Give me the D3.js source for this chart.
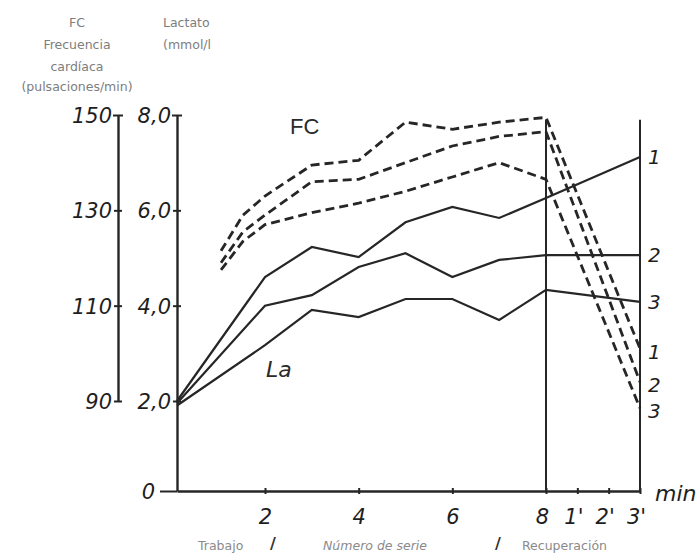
<!DOCTYPE html>
<html><head><meta charset="utf-8">
<script src="https://cdn.jsdelivr.net/npm/d3@7"></script>
<style>body{margin:0;background:#fff}svg{display:block}</style>
</head><body><svg id="c" width="700" height="555"></svg>
<script>
// ---- data ----
const workMinutes = [0, 2, 3, 4, 5, 6, 7, 8, 11];           // 11 = 3' of recovery
const lactate1 = [2.0, 4.6, 5.23, 5.02, 5.75, 6.07, 5.84, 6.26, 7.12];
const lactate2 = [1.95, 4.0, 4.22, 4.81, 5.1, 4.6, 4.96, 5.06, 5.06];
const lactate3 = [1.9, 3.17, 3.91, 3.76, 4.14, 4.14, 3.7, 4.33, 4.08];
const hrMinutes = [1, 1.5, 2, 3, 4, 5, 6, 7, 8, 11];
const hr1 = [121.5, 129, 133, 139.5, 140.5, 148.5, 147, 148.5, 149.5, 101];
const hr2 = [119, 125.5, 129, 136, 136.5, 140, 143.5, 145.5, 146.5, 94];
const hr3 = [117.5, 123.5, 127, 129.5, 131.5, 134, 137, 140, 136.5, 88.5];
const seriesNames = ["1", "2", "3"];
const xTickValues = [2, 4, 6, 8, 9, 10, 11];
const xTickLabels = ["2", "4", "6", "8", "1'", "2'", "3'"];
const hrTickValues = [90, 110, 130, 150];
const hrTickLabels = ["90", "110", "130", "150"];
const laTickValues = [0, 2, 4, 6, 8];
const laTickLabels = ["0", "2,0", "4,0", "6,0", "8,0"];

// ---- scales ----
const x = d3.scaleLinear().domain([0, 2, 8, 11]).range([177, 265, 546, 640]);
const yLa = d3.scaleLinear().domain([0, 2, 8]).range([491, 401, 115]);
const yHR = d3.scaleLinear().domain([90, 150]).range([yLa(2), yLa(8)]);

const svg = d3.select("#c");
const ink = "#262626";
const numFont = "'DejaVu Sans', sans-serif";

// header labels
const hdr = svg.append("g").attr("fill", "#7d7d7d").attr("font-family", numFont).attr("font-size", 12.5);
[["FC", 27], ["Frecuencia", 49], ["cardíaca", 71], ["(pulsaciones/min)", 91]].forEach(([t, yy]) =>
  hdr.append("text").attr("x", 77).attr("y", yy).attr("text-anchor", "middle").text(t));
hdr.append("text").attr("x", 163).attr("y", 27).text("Lactato");
hdr.append("text").attr("x", 163).attr("y", 49).text("(mmol/l");

// HR axis
const gHR = svg.append("g").attr("transform", "translate(118,0)")
  .call(d3.axisLeft(yHR).tickValues(hrTickValues).tickFormat((d, i) => hrTickLabels[i]).tickSizeOuter(0));
// Lactate axis
const gLa = svg.append("g").attr("transform", "translate(177,0)")
  .call(d3.axisLeft(yLa).tickValues(laTickValues).tickFormat((d, i) => laTickLabels[i]).tickSizeOuter(0));
[gHR, gLa].forEach(g => {
  g.select(".domain").attr("stroke", ink).attr("stroke-width", 2.4);
  g.selectAll(".tick line").attr("stroke", ink).attr("stroke-width", 2).attr("x1", -4).attr("x2", 4);
  g.selectAll(".tick text").attr("fill", "#1e1e1e").attr("font-family", numFont)
    .attr("font-style", "italic").attr("font-size", 21).attr("x", -6).attr("dy", "0.36em");
});
gHR.selectAll(".tick line").filter(d => d === 150).attr("x1", -5).attr("x2", 5);
gLa.selectAll(".tick line").filter(d => d === 8).attr("x1", -5).attr("x2", 5);
gLa.selectAll(".tick").filter(d => d === 0).select("line").attr("x1", -17).attr("x2", 0);
gLa.selectAll(".tick").filter(d => d === 0).select("text").attr("x", -22);

// X axis
const gX = svg.append("g").attr("transform", `translate(0,${yLa(0)})`)
  .call(d3.axisBottom(x).tickValues(xTickValues).tickFormat((d, i) => xTickLabels[i]).tickSizeOuter(0));
gX.select(".domain").attr("stroke", ink).attr("stroke-width", 2.4);
gX.selectAll(".tick line").attr("stroke", ink).attr("stroke-width", 2).attr("y1", -3).attr("y2", 3);
gX.selectAll(".tick text").attr("fill", "#1e1e1e").attr("font-family", numFont)
  .attr("font-style", "italic").attr("font-size", 21).attr("y", 33).attr("dy", null)
  .attr("dx", d => d >= 8 ? -4 : 0);
svg.append("text").attr("x", 655).attr("y", 501).attr("font-family", numFont)
  .attr("font-style", "italic").attr("font-size", 22).attr("fill", "#1e1e1e").text("min");

// vertical lines at 8 and 3'
svg.append("line").attr("x1", x(8)).attr("x2", x(8)).attr("y1", yHR(149)).attr("y2", yLa(0))
  .attr("stroke", ink).attr("stroke-width", 2);
svg.append("line").attr("x1", x(11)).attr("x2", x(11)).attr("y1", yLa(7.9)).attr("y2", yLa(0))
  .attr("stroke", ink).attr("stroke-width", 2);

// lactate lines
const laLine = d3.line().x((d, i) => x(workMinutes[i])).y(d => yLa(d));
[lactate1, lactate2, lactate3].forEach(s =>
  svg.append("path").attr("d", laLine(s)).attr("fill", "none").attr("stroke", ink)
    .attr("stroke-width", 2.2).attr("stroke-linejoin", "miter"));

// heart-rate lines
const hrLine = d3.line().x((d, i) => x(hrMinutes[i])).y(d => yHR(d));
[hr1, hr2, hr3].forEach(s =>
  svg.append("path").attr("d", hrLine(s)).attr("fill", "none").attr("stroke", ink)
    .attr("stroke-width", 2.8).attr("stroke-dasharray", "9,5"));

// series end labels
const lab = svg.append("g").attr("font-family", numFont).attr("font-style", "italic")
  .attr("font-size", 20).attr("fill", "#1e1e1e");
[lactate1, lactate2, lactate3].forEach((s, i) =>
  lab.append("text").attr("x", 648).attr("y", yLa(s[s.length - 1])).attr("dy", "0.36em").text(seriesNames[i]));
[hr1, hr2, hr3].forEach((s, i) =>
  lab.append("text").attr("x", 648).attr("y", yHR(s[s.length - 1]) + 3).attr("dy", "0.36em").text(seriesNames[i]));

// in-plot labels
svg.append("text").attr("x", 290).attr("y", 134).attr("font-family", "'Liberation Sans', sans-serif")
  .attr("font-size", 22).attr("fill", "#2a2a2a").text("FC");
svg.append("text").attr("x", 266).attr("y", 377).attr("font-family", numFont).attr("font-style", "italic")
  .attr("font-size", 22).attr("fill", "#2a2a2a").text("La");

// bottom labels
const bot = svg.append("g").attr("font-family", numFont).attr("font-size", 12.5).attr("fill", "#8a8a8a");
bot.append("text").attr("x", 198).attr("y", 550).text("Trabajo");
bot.append("text").attr("x", 323).attr("y", 550).attr("font-style", "italic").text("Número de serie");
bot.append("text").attr("x", 522).attr("y", 550).text("Recuperación");
[273, 498].forEach(xx => svg.append("text").attr("x", xx).attr("y", 549).attr("text-anchor", "middle")
  .attr("font-family", numFont).attr("font-size", 16).attr("font-weight", "bold").attr("fill", "#333").text("/"));
</script></body></html>
